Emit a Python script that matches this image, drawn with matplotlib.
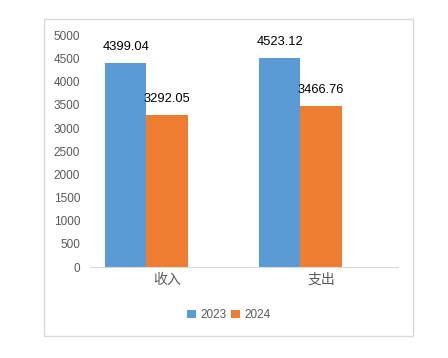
import matplotlib.pyplot as plt
from matplotlib.patches import Rectangle
import numpy as np

plt.rcParams['font.family'] = ['Liberation Sans', 'Noto Sans CJK SC', 'DejaVu Sans']

categories = ['收入', '支出']
years = ['2023', '2024']
values_2023 = [4399.04, 4523.12]
values_2024 = [3292.05, 3466.76]
yticks = list(range(0, 5001, 500))

blue = '#5B9BD5'
orange = '#ED7D31'
gray = '#595959'

fig = plt.figure(figsize=(4.48, 3.58), dpi=100)
ax = fig.add_axes([90 / 448, 91 / 358, 308 / 448, 231.5 / 358])

# outer chart border
fig.patches.append(Rectangle((44 / 448, 22 / 358), 369 / 448, 317 / 358,
                             transform=fig.transFigure, fill=False,
                             edgecolor='#D9D9D9', linewidth=1))

x = np.arange(len(categories))
w = 0.2667
b1 = ax.bar(x - w, values_2023, w, color=blue, label=years[0])
b2 = ax.bar(x, values_2024, w, color=orange, label=years[1])

for bars, vals in ((b1, values_2023), (b2, values_2024)):
    for rect, v in zip(bars, vals):
        ax.annotate(f'{v:.2f}', (rect.get_x() + rect.get_width() / 2, v),
                    xytext=(0, 16), textcoords='offset pixels',
                    ha='center', va='center', fontsize=9.3, color='black',
                    annotation_clip=False)

ax.set_xlim(-0.5, 1.5)
ax.set_ylim(0, 5000)
ax.set_yticks(yticks)
ax.set_xticks(x)
ax.set_xticklabels(categories, fontsize=10, color=gray,
                   family=['Noto Sans CJK SC', 'DejaVu Sans'])
ax.tick_params(axis='y', length=0, pad=7, labelsize=8.5, labelcolor=gray)
ax.tick_params(axis='x', length=0, pad=4)

for s in ('top', 'right', 'left'):
    ax.spines[s].set_visible(False)
ax.spines['bottom'].set_color('#D9D9D9')

fig.legend(loc='center', bbox_to_anchor=(229 / 448, 1 - 315 / 358),
           ncol=2, frameon=False, fontsize=8.5, labelcolor=gray,
           handlelength=0.7, handleheight=0.7, handletextpad=0.4,
           columnspacing=0.4)

fig.savefig('out.png', dpi=100)
